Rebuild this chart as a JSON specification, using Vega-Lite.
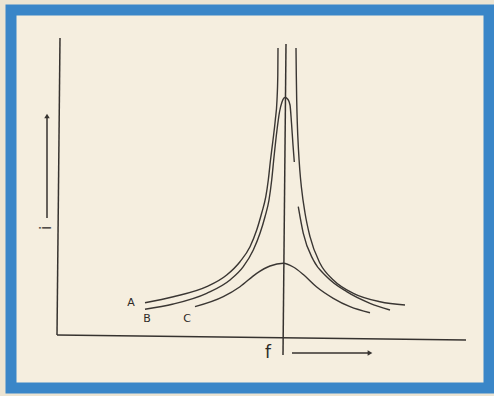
{
  "$schema": "https://vega.github.io/schema/vega-lite/v6.json",
  "width": 478,
  "height": 378,
  "autosize": {"type": "none"},
  "padding": {"left": 11, "top": 10, "right": 5, "bottom": 8},
  "background": "#ece4d2",
  "config": {
    "view": {"stroke": "#3a86c8", "strokeWidth": 11, "fill": "#f5eedf"}
  },
  "datasets": {
    "axes": [
      {"s": "yaxis", "o": 0, "x": 0.0, "y": 2.98},
      {"s": "yaxis", "o": 1, "x": -0.03, "y": 0.01},
      {"s": "xaxis", "o": 0, "x": -0.03, "y": 0.01},
      {"s": "xaxis", "o": 1, "x": 4.06, "y": -0.04},
      {"s": "f0", "o": 0, "x": 2.26, "y": 2.92},
      {"s": "f0", "o": 1, "x": 2.23, "y": -0.19},
      {"s": "iarrow", "o": 0, "x": -0.13, "y": 1.18},
      {"s": "iarrow", "o": 1, "x": -0.13, "y": 2.18},
      {"s": "farrow", "o": 0, "x": 2.32, "y": -0.17},
      {"s": "farrow", "o": 1, "x": 3.08, "y": -0.17}
    ],
    "curves": [
      {"s": "A", "o": 0, "x": 0.85, "y": 0.333},
      {"s": "A", "o": 1, "x": 1.133, "y": 0.393},
      {"s": "A", "o": 2, "x": 1.467, "y": 0.493},
      {"s": "A", "o": 3, "x": 1.667, "y": 0.61},
      {"s": "A", "o": 4, "x": 1.8, "y": 0.743},
      {"s": "A", "o": 5, "x": 1.9, "y": 0.893},
      {"s": "A", "o": 6, "x": 1.967, "y": 1.06},
      {"s": "A", "o": 7, "x": 2.017, "y": 1.23},
      {"s": "A", "o": 8, "x": 2.058, "y": 1.393},
      {"s": "A", "o": 9, "x": 2.083, "y": 1.56},
      {"s": "A", "o": 10, "x": 2.105, "y": 1.76},
      {"s": "A", "o": 11, "x": 2.13, "y": 1.96},
      {"s": "A", "o": 12, "x": 2.153, "y": 2.16},
      {"s": "A", "o": 13, "x": 2.17, "y": 2.36},
      {"s": "A", "o": 14, "x": 2.178, "y": 2.61},
      {"s": "A", "o": 15, "x": 2.18, "y": 2.88},
      {"s": "A2", "o": 0, "x": 2.36, "y": 2.88},
      {"s": "A2", "o": 1, "x": 2.363, "y": 2.61},
      {"s": "A2", "o": 2, "x": 2.367, "y": 2.36},
      {"s": "A2", "o": 3, "x": 2.373, "y": 2.13},
      {"s": "A2", "o": 4, "x": 2.385, "y": 1.86},
      {"s": "A2", "o": 5, "x": 2.398, "y": 1.66},
      {"s": "A2", "o": 6, "x": 2.415, "y": 1.48},
      {"s": "A2", "o": 7, "x": 2.45, "y": 1.23},
      {"s": "A2", "o": 8, "x": 2.5, "y": 0.993},
      {"s": "A2", "o": 9, "x": 2.6, "y": 0.727},
      {"s": "A2", "o": 10, "x": 2.733, "y": 0.56},
      {"s": "A2", "o": 11, "x": 2.933, "y": 0.427},
      {"s": "A2", "o": 12, "x": 3.2, "y": 0.343},
      {"s": "A2", "o": 13, "x": 3.45, "y": 0.31},
      {"s": "B", "o": 0, "x": 0.85, "y": 0.267},
      {"s": "B", "o": 1, "x": 1.133, "y": 0.32},
      {"s": "B", "o": 2, "x": 1.467, "y": 0.427},
      {"s": "B", "o": 3, "x": 1.7, "y": 0.56},
      {"s": "B", "o": 4, "x": 1.833, "y": 0.693},
      {"s": "B", "o": 5, "x": 1.933, "y": 0.86},
      {"s": "B", "o": 6, "x": 2.0, "y": 1.027},
      {"s": "B", "o": 7, "x": 2.05, "y": 1.193},
      {"s": "B", "o": 8, "x": 2.09, "y": 1.36},
      {"s": "B", "o": 9, "x": 2.117, "y": 1.56},
      {"s": "B", "o": 10, "x": 2.14, "y": 1.79},
      {"s": "B", "o": 11, "x": 2.17, "y": 2.06},
      {"s": "B", "o": 12, "x": 2.195, "y": 2.24},
      {"s": "B", "o": 13, "x": 2.22, "y": 2.34},
      {"s": "B", "o": 14, "x": 2.25, "y": 2.385},
      {"s": "B", "o": 15, "x": 2.28, "y": 2.365},
      {"s": "B", "o": 16, "x": 2.3, "y": 2.31},
      {"s": "B", "o": 17, "x": 2.315, "y": 2.13},
      {"s": "B", "o": 18, "x": 2.33, "y": 1.91},
      {"s": "B", "o": 19, "x": 2.343, "y": 1.74},
      {"s": "B2", "o": 0, "x": 2.383, "y": 1.293},
      {"s": "B2", "o": 1, "x": 2.433, "y": 1.027},
      {"s": "B2", "o": 2, "x": 2.533, "y": 0.76},
      {"s": "B2", "o": 3, "x": 2.667, "y": 0.593},
      {"s": "B2", "o": 4, "x": 2.867, "y": 0.443},
      {"s": "B2", "o": 5, "x": 3.1, "y": 0.327},
      {"s": "B2", "o": 6, "x": 3.3, "y": 0.26},
      {"s": "C", "o": 0, "x": 1.35, "y": 0.293},
      {"s": "C", "o": 1, "x": 1.633, "y": 0.393},
      {"s": "C", "o": 2, "x": 1.8, "y": 0.493},
      {"s": "C", "o": 3, "x": 1.967, "y": 0.627},
      {"s": "C", "o": 4, "x": 2.1, "y": 0.7},
      {"s": "C", "o": 5, "x": 2.233, "y": 0.727},
      {"s": "C", "o": 6, "x": 2.333, "y": 0.69},
      {"s": "C", "o": 7, "x": 2.433, "y": 0.615},
      {"s": "C", "o": 8, "x": 2.567, "y": 0.49},
      {"s": "C", "o": 9, "x": 2.733, "y": 0.377},
      {"s": "C", "o": 10, "x": 2.9, "y": 0.293},
      {"s": "C", "o": 11, "x": 3.1, "y": 0.233}
    ],
    "labels": [
      {"t": "A", "x": 0.71, "y": 0.33},
      {"t": "B", "x": 0.87, "y": 0.17},
      {"t": "C", "x": 1.27, "y": 0.17}
    ]
  },
  "encoding": {
    "x": {"field": "x", "type": "quantitative", "scale": {"domain": [-0.49, 4.29], "nice": false, "zero": false}, "axis": null},
    "y": {"field": "y", "type": "quantitative", "scale": {"domain": [-0.52, 3.26], "nice": false, "zero": false}, "axis": null}
  },
  "layer": [
    {
      "data": {"name": "axes"},
      "mark": {"type": "line", "color": "#36322f", "strokeWidth": 1.5},
      "encoding": {"detail": {"field": "s"}, "order": {"field": "o", "type": "quantitative"}}
    },
    {
      "data": {"name": "curves"},
      "mark": {"type": "line", "color": "#3a3633", "strokeWidth": 1.4, "interpolate": "monotone"},
      "encoding": {"detail": {"field": "s"}, "order": {"field": "o", "type": "quantitative"}}
    },
    {
      "data": {"values": [{"x": -0.13, "y": 2.2}]},
      "mark": {"type": "point", "shape": "triangle-up", "filled": true, "color": "#36322f", "size": 30, "opacity": 1}
    },
    {
      "data": {"values": [{"x": 3.1, "y": -0.17}]},
      "mark": {"type": "point", "shape": "triangle-right", "filled": true, "color": "#36322f", "size": 30, "opacity": 1}
    },
    {
      "data": {"name": "labels"},
      "mark": {"type": "text", "font": "DejaVu Sans", "color": "#2e2a27", "fontSize": 11, "align": "center", "baseline": "middle"},
      "encoding": {"text": {"field": "t"}}
    },
    {
      "data": {"values": [{"t": "f", "x": 2.08, "y": -0.17}]},
      "mark": {"type": "text", "font": "DejaVu Sans", "color": "#2e2a27", "fontSize": 17, "align": "center", "baseline": "middle"},
      "encoding": {"text": {"field": "t"}}
    },
    {
      "data": {"values": [{"t": "i", "x": -0.145, "y": 1.08}]},
      "mark": {"type": "text", "font": "DejaVu Sans", "color": "#2e2a27", "fontSize": 15, "align": "center", "baseline": "middle", "angle": 270},
      "encoding": {"text": {"field": "t"}}
    }
  ]
}
